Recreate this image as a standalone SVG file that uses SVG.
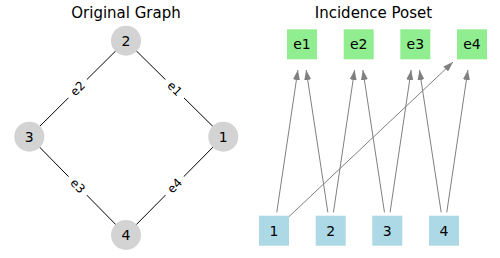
<svg xmlns="http://www.w3.org/2000/svg" width="500" height="258" viewBox="0 0 500 258">
<style>
text{font-family:"DejaVu Sans","Liberation Sans",sans-serif;fill:#000}
.title{font-size:15px;text-anchor:middle}
.lbl{font-size:14px;text-anchor:middle;dominant-baseline:central}
.el{font-size:12px;text-anchor:middle;dominant-baseline:central}
.gn{fill:#d3d3d3}
.en{fill:#90ee90}
.vn{fill:#add8e6}
.ge{stroke:#000;stroke-width:1}
.lb{fill:#fff}
.pa{stroke:#808080;stroke-width:1;fill:none;marker-end:url(#ah)}
</style>
<defs>
<marker id="ah" markerUnits="userSpaceOnUse" markerWidth="10" markerHeight="7" refX="10" refY="3.5" orient="auto">
<path d="M0,0 L10,3.5 L0,7 z" fill="#808080"/>
</marker>
</defs>
<rect width="500" height="258" fill="#fff"/>
<text class="title" x="126" y="17.5">Original Graph</text>
<text class="title" x="373.5" y="17.5">Incidence Poset</text>
<g id="graph-edges">
<line class="ge" x1="126" y1="40.7" x2="29.3" y2="136.7"/>
<line class="ge" x1="126" y1="40.7" x2="223.3" y2="136.7"/>
<line class="ge" x1="29.3" y1="136.7" x2="126" y2="235"/>
<line class="ge" x1="223.3" y1="136.7" x2="126" y2="235"/>
<g transform="translate(77.7,88.7) rotate(-45)"><rect class="lb" x="-13" y="-8" width="26" height="16"/><text class="el" x="0" y="0">e2</text></g>
<g transform="translate(174.7,88.7) rotate(45)"><rect class="lb" x="-13" y="-8" width="26" height="16"/><text class="el" x="0" y="0">e1</text></g>
<g transform="translate(77.7,185.9) rotate(45)"><rect class="lb" x="-13" y="-8" width="26" height="16"/><text class="el" x="0" y="0">e3</text></g>
<g transform="translate(174.7,185.9) rotate(-45)"><rect class="lb" x="-13" y="-8" width="26" height="16"/><text class="el" x="0" y="0">e4</text></g>
</g>
<g id="g2"><circle class="gn" cx="126" cy="40.7" r="15"/><text class="lbl" x="126" y="40.7">2</text></g>
<g id="g3"><circle class="gn" cx="29.3" cy="136.7" r="15"/><text class="lbl" x="29.3" y="136.7">3</text></g>
<g id="g1"><circle class="gn" cx="223.3" cy="136.7" r="15"/><text class="lbl" x="223.3" y="136.7">1</text></g>
<g id="g4"><circle class="gn" cx="126" cy="235" r="15"/><text class="lbl" x="126" y="235">4</text></g>
<g id="poset-edges">
<line class="pa" x1="276.75" y1="212.4" x2="297.9" y2="70"/>
<line class="pa" x1="287.47" y1="218.02" x2="453.0" y2="62.1"/>
<line class="pa" x1="327.88" y1="212.4" x2="306.2" y2="70"/>
<line class="pa" x1="333.45" y1="212.4" x2="354.6" y2="70"/>
<line class="pa" x1="384.48" y1="212.4" x2="362.9" y2="70"/>
<line class="pa" x1="390.05" y1="212.4" x2="411.2" y2="70"/>
<line class="pa" x1="441.18" y1="212.4" x2="419.5" y2="70"/>
<line class="pa" x1="446.75" y1="212.4" x2="467.9" y2="70"/>
</g>
<g id="e1"><rect class="en" x="287" y="29.3" width="30" height="30"/><text class="lbl" x="302" y="44.3">e1</text></g>
<g id="e2"><rect class="en" x="343.7" y="29.3" width="30" height="30"/><text class="lbl" x="358.7" y="44.3">e2</text></g>
<g id="e3"><rect class="en" x="400.3" y="29.3" width="30" height="30"/><text class="lbl" x="415.3" y="44.3">e3</text></g>
<g id="e4"><rect class="en" x="457" y="29.3" width="30" height="30"/><text class="lbl" x="472" y="44.3">e4</text></g>
<g id="v1"><rect class="vn" x="259" y="215.7" width="30" height="30"/><text class="lbl" x="274" y="230.7">1</text></g>
<g id="v2"><rect class="vn" x="315.7" y="215.7" width="30" height="30"/><text class="lbl" x="330.7" y="230.7">2</text></g>
<g id="v3"><rect class="vn" x="372.3" y="215.7" width="30" height="30"/><text class="lbl" x="387.3" y="230.7">3</text></g>
<g id="v4"><rect class="vn" x="429" y="215.7" width="30" height="30"/><text class="lbl" x="444" y="230.7">4</text></g>
</svg>
